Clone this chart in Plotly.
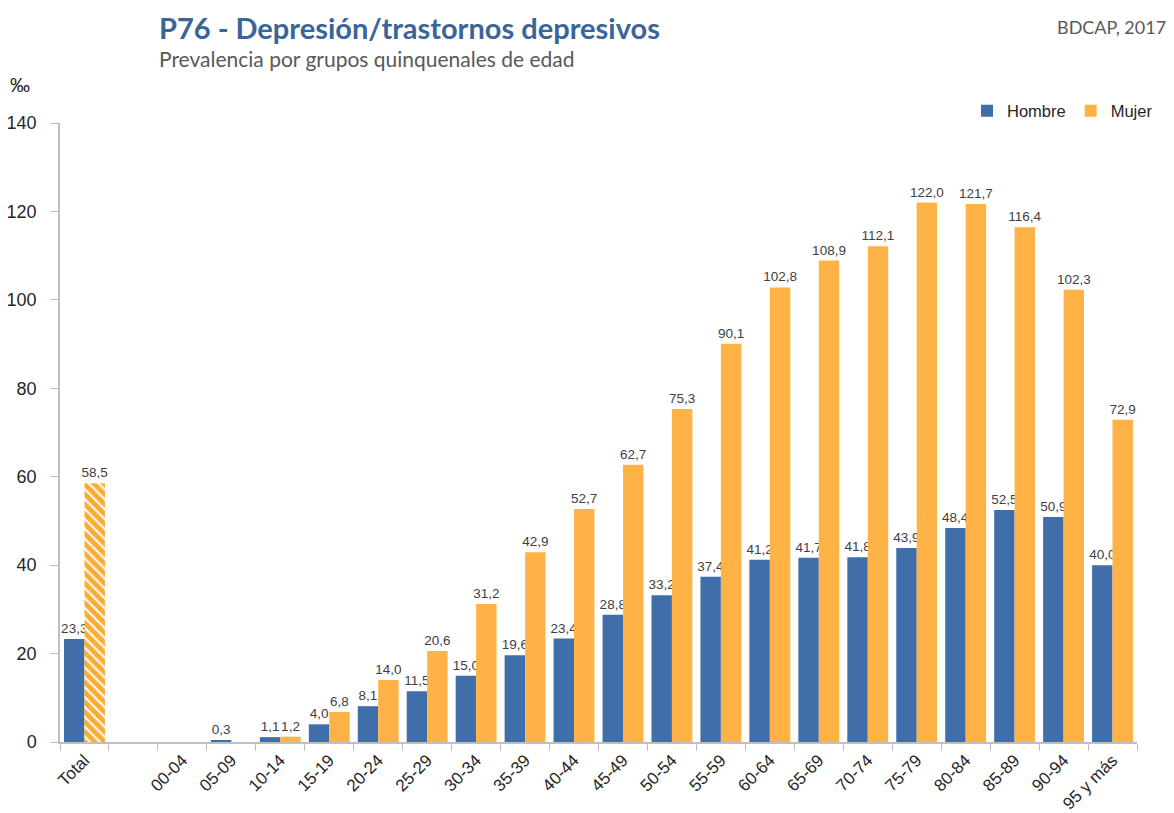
import plotly.graph_objects as go

categories = ["Total", " ", "00-04", "05-09", "10-14", "15-19", "20-24", "25-29", "30-34",
              "35-39", "40-44", "45-49", "50-54", "55-59", "60-64", "65-69", "70-74",
              "75-79", "80-84", "85-89", "90-94", "95 y más"]
hombre = [23.3, None, None, 0.3, 1.1, 4.0, 8.1, 11.5, 15.0, 19.6, 23.4, 28.8, 33.2, 37.4,
          41.2, 41.7, 41.8, 43.9, 48.4, 52.5, 50.9, 40.0]
mujer = [None, None, None, None, 1.2, 6.8, 14.0, 20.6, 31.2, 42.9, 52.7, 62.7, 75.3, 90.1,
         102.8, 108.9, 112.1, 122.0, 121.7, 116.4, 102.3, 72.9]
mujer_total = [58.5]
y_ticks = [0, 20, 40, 60, 80, 100, 120, 140]

BLUE = "#3F6EA9"
ORANGE = "#FFB347"
NARROW = "Liberation Sans Narrow, Arial Narrow, Liberation Sans, Arial, sans-serif"
LABEL_FONT = dict(family=NARROW, size=13.5, color="#404040")

def fmt(v):
    return "" if v is None else f"{v:.1f}".replace(".", ",")

fig = go.Figure()
fig.add_trace(go.Bar(
    name="Hombre", x=categories, y=hombre, offsetgroup="h",
    marker=dict(color=BLUE, line=dict(width=0)),
    text=[fmt(v) for v in hombre], textposition="outside", constraintext="none",
    textfont=LABEL_FONT, cliponaxis=False,
))
fig.add_trace(go.Bar(
    name="Mujer", x=categories, y=mujer, offsetgroup="m",
    marker=dict(color=ORANGE, line=dict(width=0)),
    text=[fmt(v) for v in mujer], textposition="outside", constraintext="none",
    textfont=LABEL_FONT, cliponaxis=False,
))
fig.add_trace(go.Bar(
    name="Mujer total", x=categories[:1], y=mujer_total, offsetgroup="m", showlegend=False,
    marker=dict(color="white", line=dict(width=0),
                pattern=dict(shape="\\", fgcolor="#FFAA30", bgcolor="white", size=7,
                             solidity=0.7, fgopacity=1)),
    text=[fmt(v) for v in mujer_total], textposition="outside", constraintext="none",
    textfont=LABEL_FONT, cliponaxis=False,
))

# the page body has an 8px margin, so the figure is drawn 8px in from the corner
OFF = 8
W, H = 1174 - OFF, 813 - OFF
PLOT_L, PLOT_R, PLOT_T, PLOT_B = 60, 1137, 123, 742   # page pixels of the plot area
L, T = PLOT_L - OFF, PLOT_T - OFF
R, B = W - (PLOT_R - OFF), H - (PLOT_B - OFF)
pw, ph = PLOT_R - PLOT_L, PLOT_B - PLOT_T

def px(x):
    return (x - PLOT_L) / pw

def py(y):
    return (PLOT_B - y) / ph

fig.update_layout(
    width=W, height=H,
    margin=dict(l=L, r=R, t=T, b=B, autoexpand=False),
    paper_bgcolor="white", plot_bgcolor="white",
    barmode="group", bargap=0.165, bargroupgap=0,
    showlegend=True,
    legend=dict(orientation="h", x=px(967), y=py(111), xanchor="left", yanchor="middle",
                font=dict(family=NARROW, size=16.5, color="#262626"),
                itemwidth=30, tracegroupgap=0, bgcolor="rgba(0,0,0,0)"),
    xaxis=dict(
        type="category", categoryorder="array", categoryarray=categories,
        showline=True, linecolor="#BFBFBF", linewidth=1.5, automargin=False,
        ticks="outside", tickson="boundaries", ticklen=7, tickcolor="#BFBFBF",
        tickangle=-45, tickfont=dict(family=NARROW, size=17, color="#262626"),
        showgrid=False, zeroline=False,
    ),
    yaxis=dict(
        range=[0, 140], tickvals=y_ticks, ticktext=[str(v) for v in y_ticks],
        showline=True, linecolor="#BFBFBF", linewidth=1.5, automargin=False,
        ticks="outside", ticklen=8, tickcolor="#BFBFBF", ticklabelstandoff=10,
        tickfont=dict(family=NARROW, size=18, color="#262626"),
        showgrid=False, zeroline=False,
    ),
    annotations=[
        dict(text="<b>P76 - Depresión/trastornos depresivos</b>", xref="paper", yref="paper",
             x=px(157), y=py(28), xanchor="left", yanchor="middle", showarrow=False,
             font=dict(family="Lato, sans-serif", size=29, color="#3A6598")),
        dict(text="Prevalencia por grupos quinquenales de edad", xref="paper", yref="paper",
             x=px(157), y=py(58), xanchor="left", yanchor="middle", showarrow=False,
             font=dict(family="Lato, sans-serif", size=21, color="#595959")),
        dict(text="BDCAP, 2017", xref="paper", yref="paper",
             x=px(1168), y=py(27), xanchor="right", yanchor="middle", showarrow=False,
             font=dict(family="Lato, sans-serif", size=18, color="#595959")),
        dict(text="‰", xref="paper", yref="paper",
             x=px(8), y=py(85), xanchor="left", yanchor="middle", showarrow=False,
             font=dict(family=NARROW, size=20, color="#262626")),
    ],
)

fig.write_html("out.html")
